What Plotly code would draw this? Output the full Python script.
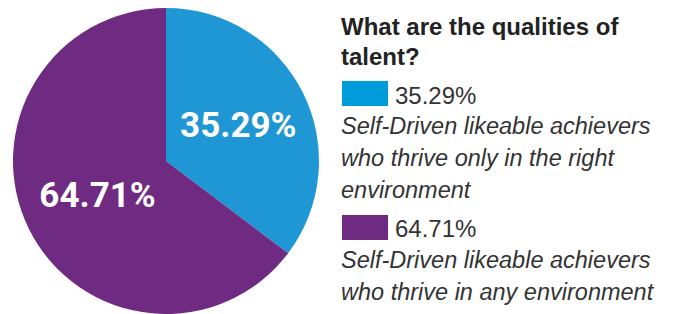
import textwrap
import plotly.graph_objects as go

# ---- data ----
title_text = "What are the qualities of talent?"
categories = [
    "Self-Driven likeable achievers who thrive only in the right environment",
    "Self-Driven likeable achievers who thrive in any environment",
]
values = [35.29, 64.71]
pie_colors = ["#1F97D4", "#6F2A82"]
swatch_colors = ["#009BDB", "#6F2A82"]

W, H = 685, 314

def px(x):
    return x / W

def py(y):
    return 1 - y / H

fig = go.Figure(
    go.Pie(
        labels=categories,
        values=values,
        sort=False,
        direction="clockwise",
        rotation=0,
        marker=dict(colors=pie_colors, line=dict(width=0)),
        texttemplate="%{value:.2f}%",
        textposition="inside",
        insidetextorientation="horizontal",
        textfont=dict(family="Roboto", size=35, color="white", weight="bold"),
        hoverinfo="label+percent",
        showlegend=False,
        domain=dict(x=[px(12), px(320)], y=[0, py(8)]),
    )
)

annotations = []
shapes = []

# legend title
title_lines = textwrap.wrap(title_text, width=26)
title_y = [27, 57]
for line, yy in zip(title_lines, title_y):
    annotations.append(dict(
        x=px(339), y=py(yy), xref="paper", yref="paper", xanchor="left", yanchor="middle",
        text="<b>" + line + "</b>", showarrow=False,
        font=dict(family="Liberation Sans, Arial", size=24, color="#222222"),
    ))

# legend items
swatch_tops = [81, 215]
line_gap = 32
for i, (cat, val) in enumerate(zip(categories, values)):
    top = swatch_tops[i]
    shapes.append(dict(
        type="rect", xref="paper", yref="paper",
        x0=px(342), x1=px(388), y0=py(top), y1=py(top + 25),
        fillcolor=swatch_colors[i], line=dict(width=0),
    ))
    annotations.append(dict(
        x=px(393), y=py(top + 14), xref="paper", yref="paper", xanchor="left", yanchor="middle",
        text=f"{val:.2f}%", showarrow=False,
        font=dict(family="Liberation Sans, Arial", size=24, color="#333333"),
    ))
    for j, line in enumerate(textwrap.wrap(cat, width=30)):
        annotations.append(dict(
            x=px(339), y=py(top + 45 + j * line_gap), xref="paper", yref="paper",
            xanchor="left", yanchor="middle",
            text="<i>" + line + "</i>", showarrow=False,
            font=dict(family="Liberation Sans, Arial", size=23.5, color="#333333"),
        ))

fig.update_layout(
    width=W, height=H,
    margin=dict(l=0, r=0, t=0, b=0),
    paper_bgcolor="white", plot_bgcolor="white",
    annotations=annotations, shapes=shapes,
)

fig.write_html("out.html", config={"displayModeBar": False},
               post_script="document.body.style.margin='0';")
